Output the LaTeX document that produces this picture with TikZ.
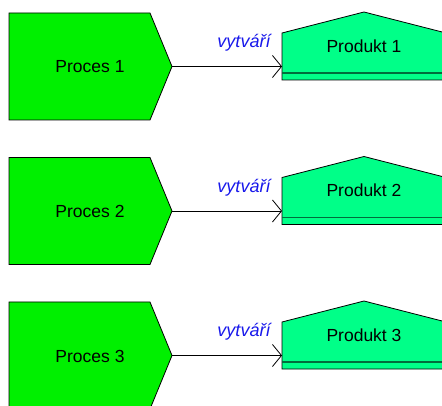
\documentclass[tikz,border=0pt]{standalone}
\usepackage{fontspec}
\setmainfont{Liberation Sans}
\usetikzlibrary{arrows.meta}
\definecolor{procgreen}{RGB}{0,240,0}
\definecolor{prodgreen}{RGB}{0,255,136}
\definecolor{linegreen}{RGB}{0,110,60}
\definecolor{relblue}{RGB}{25,25,235}
\begin{document}
\begin{tikzpicture}[x=1pt,y=-1pt,
  shapebox/.style={inner sep=0pt, outer sep=0pt},
  labeltext/.style={font=\fontsize{17.5}{20}\selectfont, text=black, inner sep=0pt},
  reltext/.style={font=\fontsize{18}{20}\selectfont\itshape, text=relblue, inner sep=0pt},
  procshape/.style={fill=procgreen, draw=black, line width=0.8pt},
  prodshape/.style={fill=prodgreen, draw=black, line width=0.8pt},
  relarrow/.style={draw=black, line width=0.8pt, -{Straight Barb[length=9pt,width=22pt]}}]
\useasboundingbox (0,0) rectangle (442,406);
\clip (0,0) rectangle (442,406);
\foreach \i/\oy in {1/0,2/144.5,3/289}{
  \begin{scope}[yshift=-\oy pt]
    \path[procshape] (9,13) -- (150,13) -- (172,66.5) -- (150,120) -- (9,120) -- cycle;
    \node[shapebox, name=p\i, minimum width=163pt, minimum height=107pt] at (90.5,66.5) {};
    \node[labeltext, name=pt\i] at (90,67) {Proces \i};
    \path[prodshape] (282,33) -- (364,12) -- (446,33) -- (446,80) -- (282,80) -- cycle;
    \draw[linegreen, line width=1.2pt] (282,73) -- (446,73);
    \node[shapebox, name=d\i, minimum width=164pt, minimum height=68pt] at (364,46) {};
    \node[labeltext, name=dt\i] at (364,46) {Produkt \i};
    \draw[relarrow] (p\i.east) -- (p\i.east -| d\i.west);
    \node[reltext, name=l\i] at (244,43) {vytváří};
  \end{scope}
}
\end{tikzpicture}
\end{document}
